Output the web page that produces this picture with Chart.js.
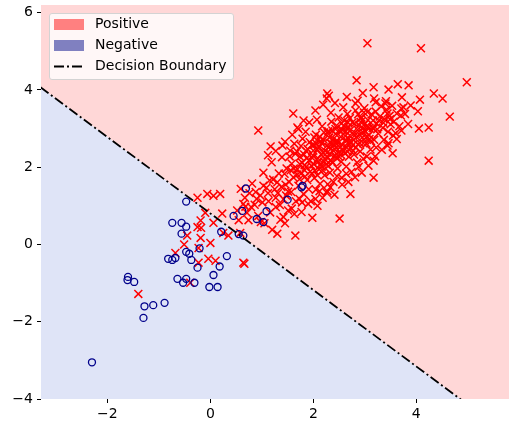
<!DOCTYPE html>
<html>
<head>
<meta charset="utf-8">
<script src="https://cdn.jsdelivr.net/npm/chart.js@4.4.0/dist/chart.umd.min.js"></script>
<style>
  body { margin: 0; background: #fff; }
  #wrap { position: relative; width: 509px; height: 424px; }
  #legend {
    position: absolute; left: 49px; top: 13px; width: 183px; height: 65px;
    background: rgba(255, 255, 255, 0.8); border: 1px solid #d3d3d3; border-radius: 3px;
    font-family: "DejaVu Sans", sans-serif; font-size: 14px; color: #000;
  }
  .row { position: absolute; left: 0; height: 20px; width: 100%; }
  .swatch { position: absolute; left: 4px; top: 5px; width: 30px; height: 11px; }
  .label { position: absolute; left: 45px; top: 1px; white-space: nowrap; }
  .row svg { position: absolute; left: 4px; top: 0; }
</style>
</head>
<body>
<div id="wrap">
  <canvas id="chart" width="509" height="424"></canvas>
  <div id="legend">
    <div class="row" style="top:0px"><div class="swatch" style="background:#ff8080"></div><span class="label">Positive</span></div>
    <div class="row" style="top:21px"><div class="swatch" style="background:#8080c0"></div><span class="label">Negative</span></div>
    <div class="row" style="top:42px">
      <svg width="32" height="20"><line x1="0" y1="10.5" x2="30" y2="10.5" stroke="#000" stroke-width="1.8" stroke-dasharray="10,3,2,3"/></svg>
      <span class="label">Decision Boundary</span>
    </div>
  </div>
</div>
<script>
// points, [x, y]
const positivePoints = [
    // scattered outliers
    [3.05, 5.21], [4.09, 5.08], [4.98, 4.2], [2.84, 4.25], [3.17, 4.07], [3.46, 4.01], [3.64, 4.15],
    [3.85, 4.12], [4.34, 3.91], [4.51, 3.78], [3.72, 3.81], [4.07, 3.75], [4.65, 3.31], [4.05, 3.0],
    [4.24, 3.03], [4.24, 2.17], [3.17, 1.73], [3.54, 2.36], [3.6, 2.88], [3.5, 3.11], [2.82, 3.65],
    [3.21, 3.68], [3.4, 3.65], [3.89, 3.6], [4.03, 3.45], [3.75, 3.55], [3.7, 3.34], [2.98, 3.42],
    [3.44, 3.39], [3.17, 3.0], [3.17, 2.17], [3.44, 2.56], [2.92, 3.26], [2.67, 3.16], [3.27, 3.21],
    [3.05, 3.03], [2.27, 3.91], [2.26, 3.78], [2.3, 3.85], [1.61, 3.39], [1.69, 3.03], [0.93, 2.95],
    [1.17, 2.54], [1.4, 2.56], [1.65, 0.23], [2.51, 0.67], [1.98, 0.69], [0.64, -0.47], [1.3, 0.28],
    [2.72, 1.31], [2.08, 1.0], [2.26, 1.34],
    // below the boundary
    [-1.4, -1.28], [-0.39, -0.99], [-0.23, -0.47], [-0.68, -0.22], [-0.51, 0.0], [-0.19, 0.17],
    [-0.45, 0.23], [-0.23, -0.09], [0.0, 0.04], [-0.04, -0.37], [0.1, -0.42], [0.66, -0.5],
    [-0.18, 0.43], [-0.25, 0.45], [-0.19, 0.62], [-0.1, 0.82], [0.06, 0.56], [0.25, 0.3], [0.35, 0.23],
    [0.58, 0.3], [0.23, 0.8], [-0.25, 1.21], [-0.06, 1.31], [0.06, 1.26], [0.19, 1.31],
    // dense cluster
    [0.52, 0.88], [0.67, 1.21], [0.74, 0.63], [0.59, 1.44], [0.86, 1.03], [0.93, 0.74], [0.81, 1.58], [0.97, 1.27],
    [1.05, 0.55], [1.03, 1.86], [1.13, 1.12], [1.16, 0.83], [1.09, 1.47], [1.22, 1.68], [1.27, 0.97], [1.19, 2.13],
    [1.31, 1.33], [1.36, 0.64], [1.33, 1.84], [1.42, 1.17], [1.39, 2.26], [1.46, 1.55], [1.51, 0.88], [1.48, 1.97],
    [1.55, 2.43], [1.57, 1.36], [1.61, 1.74], [1.58, 2.09], [1.66, 1.12], [1.63, 2.61], [1.69, 1.95], [1.71, 1.52],
    [1.74, 2.27], [1.77, 0.84], [1.76, 1.83], [1.79, 2.74], [1.83, 2.05], [1.81, 1.31], [1.86, 2.42], [1.88, 1.67],
    [1.85, 2.92], [1.92, 2.18], [1.94, 1.89], [1.91, 1.43], [1.97, 2.57], [1.99, 2.31], [2.02, 1.72], [2.01, 2.08],
    [2.05, 2.84], [2.04, 1.18], [2.08, 2.46], [2.11, 1.95], [2.09, 2.23], [2.13, 1.57], [2.14, 2.67], [2.17, 3.06],
    [2.16, 2.01], [2.19, 2.38], [2.22, 1.79], [2.21, 2.9], [2.24, 2.19], [2.26, 2.55], [2.27, 1.38], [2.29, 2.03],
    [2.31, 2.77], [2.33, 2.34], [2.32, 1.86], [2.36, 2.61], [2.35, 3.18], [2.38, 2.12], [2.41, 2.47], [2.39, 1.62],
    [2.43, 2.86], [2.44, 2.25], [2.46, 2.69], [2.47, 1.97], [2.49, 3.29], [2.51, 2.41], [2.52, 2.93], [2.54, 2.14],
    [2.56, 2.58], [2.55, 1.73], [2.59, 3.07], [2.61, 2.36], [2.62, 2.81], [2.64, 2.02], [2.66, 3.38], [2.67, 2.63],
    [2.69, 2.27], [2.71, 2.95], [2.73, 2.49], [2.74, 1.88], [2.76, 3.16], [2.78, 2.71], [2.79, 2.33], [2.82, 3.47],
    [2.83, 2.86], [2.85, 2.12], [2.87, 2.59], [2.89, 3.08], [2.91, 2.41], [2.93, 3.29], [2.95, 2.77], [2.97, 2.22],
    [2.99, 3.53], [3.01, 2.93], [3.03, 2.61], [3.06, 3.22], [3.08, 2.83], [3.11, 2.46], [3.13, 3.37], [3.15, 3.02],
    [3.18, 2.71], [3.21, 3.44], [3.23, 3.13], [3.26, 2.87], [3.29, 3.31], [3.32, 3.58], [3.35, 3.02], [3.38, 3.24],
    [3.42, 3.49], [3.45, 2.92], [3.48, 3.33], [3.53, 3.59], [3.56, 3.18], [3.62, 3.39], [3.67, 3.06], [3.71, 3.52],
    [1.44, 1.83], [1.53, 1.62], [1.62, 1.97], [1.68, 2.41], [1.73, 1.69], [1.78, 2.12], [1.84, 1.76], [1.87, 2.23],
    [1.93, 2.65], [1.96, 2.04], [2.0, 2.43], [2.03, 1.91], [2.06, 2.61], [2.1, 2.15], [2.12, 2.79], [2.15, 2.33],
    [2.18, 1.92], [2.2, 2.71], [2.23, 2.42], [2.25, 2.08], [2.28, 2.88], [2.3, 2.52], [2.34, 2.17], [2.37, 2.95],
    [2.4, 2.58], [2.42, 2.31], [2.45, 3.08], [2.48, 2.63], [2.5, 2.27], [2.53, 2.79], [2.57, 2.45], [2.6, 3.21],
    [2.63, 2.71], [2.65, 2.51], [2.68, 3.04], [2.72, 2.64], [2.75, 2.88], [2.77, 2.42], [2.8, 3.13], [2.84, 2.78],
    [2.86, 2.97], [2.9, 2.63], [2.92, 3.17], [2.96, 2.91], [3.0, 3.12], [3.02, 2.77], [3.05, 3.43], [3.09, 3.02],
    [3.12, 2.68], [3.16, 3.21], [1.25, 1.43], [1.35, 1.02], [1.47, 1.27], [1.3, 1.61], [1.12, 1.33], [1.01, 1.09],
    [0.88, 1.36], [0.79, 0.97], [0.71, 0.82], [0.64, 1.05], [1.59, 2.84], [1.71, 2.99], [1.54, 2.28], [1.92, 3.16],
    [2.07, 3.23], [2.34, 3.41], [2.58, 3.55], [2.86, 3.72], [3.18, 3.78], [3.41, 3.71], [2.28, 1.56], [2.46, 1.77],
    [2.64, 1.83], [2.88, 2.01], [3.04, 2.28], [3.22, 2.51], [3.37, 2.71], [3.55, 2.82], [2.12, 1.38], [1.95, 1.12],
    [1.78, 1.09], [1.63, 0.79], [1.45, 0.55], [1.2, 0.38], [0.98, 0.58], [1.86, 2.01], [1.98, 2.24], [2.11, 2.52],
    [2.26, 2.27], [2.38, 2.72], [2.52, 2.52], [2.63, 2.93], [2.77, 2.58], [2.9, 2.84], [3.04, 3.07], [1.74, 2.08],
    [2.01, 2.58], [2.21, 2.14], [2.44, 2.62], [2.69, 2.74], [2.96, 3.01], [1.82, 2.33], [2.08, 1.79], [2.33, 2.63],
    [2.57, 2.96], [1.42, 0.71], [1.58, 0.93], [1.73, 1.18], [1.9, 1.05], [2.05, 1.42], [2.18, 1.21], [2.33, 1.48],
    [2.41, 1.29], [2.56, 1.55], [2.68, 1.62], [2.81, 1.74], [2.94, 1.86], [3.07, 2.04], [3.2, 2.28], [3.33, 2.45],
    [3.46, 2.62], [3.62, 2.73], [3.71, 2.95], [3.84, 3.12], [3.78, 3.38], [1.12, 2.31], [1.27, 2.42], [1.45, 2.66],
    [1.81, 3.21], [2.04, 3.47], [2.19, 3.62], [2.42, 3.66], [2.65, 3.82], [2.96, 3.92],
    [1.65, 2.35], [1.76, 2.55], [1.89, 2.47], [2.02, 2.77], [2.16, 2.62], [2.29, 2.93], [2.43, 2.99], [2.55, 3.14],
    [2.71, 3.27], [2.87, 3.37], [1.56, 1.92], [1.69, 1.81], [1.83, 1.92], [1.97, 1.84], [2.13, 2.07], [2.27, 2.38],
    [2.39, 2.43], [2.53, 2.33], [2.66, 2.41], [2.82, 2.51], [2.97, 2.62], [3.09, 2.73], [3.24, 2.98], [3.36, 3.15],
    [3.49, 3.24], [1.38, 1.49], [1.51, 1.37], [1.27, 1.21], [1.15, 1.66], [1.03, 1.52], [0.9, 1.18], [0.76, 1.33],
    [0.68, 0.98], [0.55, 0.63]
];

const negativePoints = [
    [-2.3, -3.05], [0.69, 1.45], [1.79, 1.52], [1.5, 1.16], [0.45, 0.74], [0.62, 0.87], [1.09, 0.86],
    [0.9, 0.66], [1.03, 0.58], [0.21, 0.33], [0.55, 0.27], [0.64, 0.23], [-0.21, -0.1], [0.32, -0.3],
    [0.18, -0.57], [-0.47, 1.11], [-0.74, 0.56], [-0.56, 0.56], [-0.47, 0.46], [-0.56, 0.28],
    [-0.47, -0.19], [-0.41, -0.24], [-0.37, -0.4], [-0.82, -0.37], [-0.74, -0.4], [-0.68, -0.35],
    [-0.25, -0.6], [0.06, -0.79], [-0.64, -0.89], [-0.47, -0.89], [-0.53, -0.99], [-0.31, -0.99],
    [-0.02, -1.1], [0.14, -1.1], [-1.6, -0.84], [-1.61, -0.92], [-1.48, -0.97], [-1.28, -1.6],
    [-1.11, -1.57], [-0.89, -1.51], [-1.3, -1.9], [1.77, 1.48]
];

// decision boundary end points
const boundaryX = [-3.3, 5.8];
const boundaryY = [4.07, -4.94];

const xTicks = [-2, 0, 2, 4];
const yTicks = [-4, -2, 0, 2, 4, 6];
const xLimits = [-3.29, 5.8];
const yLimits = [-4, 6.2];

const toXY = p => ({ x: p[0], y: p[1] });
const boundary = boundaryX.map((x, i) => ({ x: x, y: boundaryY[i] }));

// matplotlib style minus sign
function tickText(v) {
    return v < 0 ? '\u2212' + Math.abs(v) : String(v);
}

// keep the plot area where the reference has it
function noPadding(s) {
    s.paddingLeft = 0; s.paddingRight = 0; s.paddingTop = 0; s.paddingBottom = 0;
}

const tickFont = { family: 'DejaVu Sans', size: 14 };

new Chart(document.getElementById('chart'), {
    type: 'scatter',
    data: {
        datasets: [
            {
                type: 'line', data: boundary, borderColor: 'transparent', borderWidth: 0,
                backgroundColor: '#dfe4f7', fill: 'start', pointRadius: 0, order: 10
            },
            {
                type: 'line', data: boundary, borderColor: 'transparent', borderWidth: 0,
                backgroundColor: '#ffd7d7', fill: 'end', pointRadius: 0, order: 10
            },
            {
                label: 'Positive', data: positivePoints.map(toXY), pointStyle: 'crossRot',
                pointRadius: 5.6, borderColor: '#ff0000', borderWidth: 1.5, order: 3
            },
            {
                label: 'Negative', data: negativePoints.map(toXY), pointStyle: 'circle',
                pointRadius: 3.5, borderColor: '#00008b', backgroundColor: 'transparent',
                borderWidth: 1.3, order: 2
            },
            {
                type: 'line', label: 'Decision Boundary', data: boundary, borderColor: '#000',
                borderWidth: 1.8, borderDash: [10, 3, 2, 3], pointRadius: 0, fill: false, order: 1
            }
        ]
    },
    options: {
        responsive: false,
        animation: false,
        events: [],
        layout: { autoPadding: false, padding: { top: 5, right: 0, left: 0, bottom: 0 } },
        plugins: {
            legend: { display: false },
            tooltip: { enabled: false }
        },
        scales: {
            x: {
                type: 'linear', min: xLimits[0], max: xLimits[1],
                afterBuildTicks: s => { s.ticks = xTicks.map(v => ({ value: v })); },
                afterFit: s => { s.height = 25; noPadding(s); },
                border: { display: false },
                grid: { drawOnChartArea: false, drawTicks: true, tickLength: 4, color: '#000' },
                ticks: { color: '#000', font: tickFont, padding: 3, maxRotation: 0, autoSkip: false, callback: tickText }
            },
            y: {
                type: 'linear', min: yLimits[0], max: yLimits[1],
                afterBuildTicks: s => { s.ticks = yTicks.map(v => ({ value: v })); },
                afterFit: s => { s.width = 41; noPadding(s); },
                border: { display: false },
                grid: { drawOnChartArea: false, drawTicks: true, tickLength: 4, color: '#000' },
                ticks: { color: '#000', font: tickFont, padding: 4, autoSkip: false, callback: tickText }
            }
        }
    }
});
</script>
</body>
</html>
